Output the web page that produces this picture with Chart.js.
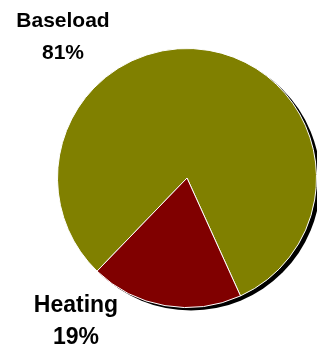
<!DOCTYPE html>
<html>
<head>
<meta charset="utf-8">
<script src="https://cdn.jsdelivr.net/npm/chart.js@4"></script>
<style>
  html, body { margin: 0; padding: 0; background: #fff; }
  #wrap { width: 317px; height: 349px; }
</style>
</head>
<body>
<div id="wrap"><canvas id="myChart" width="317" height="349"></canvas></div>
<script>
const categories = ["Baseload", "Heating"];
const shares = [81, 19];
const sliceColors = ["#808000", "#800000"];

// drop shadow behind the pie, offset down-right
const shadowPlugin = {
  id: "pieShadow",
  beforeDatasetsDraw(chart) {
    const arc = chart.getDatasetMeta(0).data[0];
    if (!arc) return;
    const ctx = chart.ctx;
    ctx.save();
    ctx.fillStyle = "#000";
    ctx.beginPath();
    ctx.arc(arc.x + 4, arc.y + 3, arc.outerRadius, 0, Math.PI * 2);
    ctx.fill();
    ctx.restore();
  }
};

// category + percent labels outside the pie
const labelPlugin = {
  id: "outerLabels",
  afterDraw(chart) {
    const ctx = chart.ctx;
    const spots = [
      { x: 63, y: 27, size: 21 },
      { x: 76, y: 312, size: 23 }
    ];
    ctx.save();
    ctx.fillStyle = "#000";
    ctx.textAlign = "center";
    ctx.textBaseline = "alphabetic";
    categories.forEach((name, i) => {
      const s = spots[i];
      ctx.font = "bold " + s.size + "px 'Liberation Sans', Arial, sans-serif";
      ctx.fillText(name, s.x, s.y);
      ctx.fillText(shares[i] + "%", s.x, s.y + 32);
    });
    ctx.restore();
  }
};

const ctx = document.getElementById("myChart").getContext("2d");
const chart = new Chart(ctx, {
  type: "pie",
  data: {
    labels: categories,
    datasets: [
      {
        data: shares,
        backgroundColor: sliceColors,
        borderColor: "#fff",
        borderWidth: 1
      }
    ]
  },
  options: {
    responsive: false,
    animation: false,
    rotation: 224,
    layout: { padding: { left: 57, right: 0, top: 48, bottom: 41 } },
    plugins: {
      legend: { display: false },
      tooltip: { enabled: false }
    }
  },
  plugins: [shadowPlugin, labelPlugin]
});
</script>
</body>
</html>
